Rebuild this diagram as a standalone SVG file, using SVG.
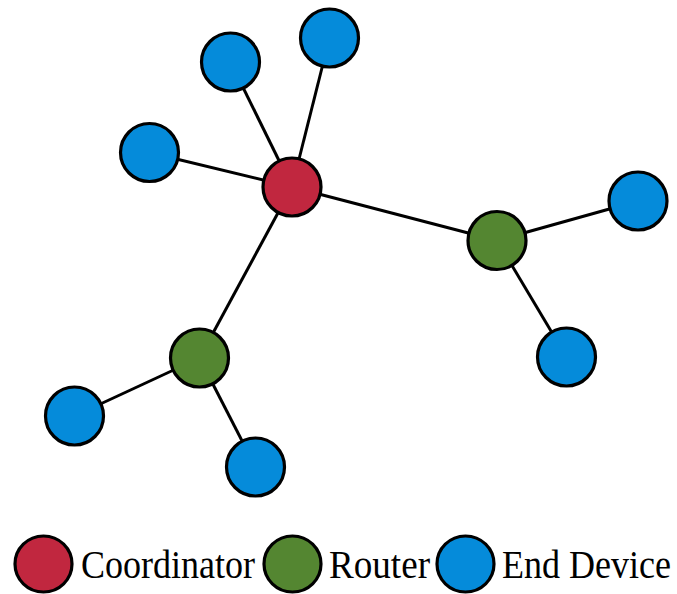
<svg xmlns="http://www.w3.org/2000/svg" width="677" height="594" viewBox="0 0 677 594">
<style>
.edge{stroke:#000;stroke-width:3;fill:none}
.node{stroke:#000;stroke-width:3.2}
.coord{fill:#C1273F}
.router{fill:#548631}
.end{fill:#058BDA}
.lbl{font-family:"Liberation Serif","Times New Roman","DejaVu Serif",serif;font-size:40px;fill:#000}
</style>
<rect width="677" height="594" fill="#fff"/>
<g id="connectors">
<line class="edge" x1="292" y1="187" x2="230.5" y2="62"/>
<line class="edge" x1="292" y1="187" x2="329.5" y2="38"/>
<line class="edge" x1="292" y1="187" x2="149.5" y2="152.5"/>
<line class="edge" x1="292" y1="187" x2="497" y2="240.5"/>
<line class="edge" x1="292" y1="187" x2="199.5" y2="358"/>
<line class="edge" x1="497" y1="240.5" x2="638" y2="201"/>
<line class="edge" x1="497" y1="240.5" x2="566.5" y2="357"/>
<line class="edge" x1="199.5" y1="358" x2="74.5" y2="416"/>
<line class="edge" x1="199.5" y1="358" x2="255.5" y2="467"/>
</g>
<g id="coordinator"><circle class="node coord" cx="292" cy="187" r="29"/></g>
<g id="router1"><circle class="node router" cx="497" cy="240.5" r="29"/></g>
<g id="router2"><circle class="node router" cx="199.5" cy="358" r="29"/></g>
<g id="end1"><circle class="node end" cx="230.5" cy="62" r="29"/></g>
<g id="end2"><circle class="node end" cx="329.5" cy="38" r="29"/></g>
<g id="end3"><circle class="node end" cx="149.5" cy="152.5" r="29"/></g>
<g id="end4"><circle class="node end" cx="638" cy="201" r="29"/></g>
<g id="end5"><circle class="node end" cx="566.5" cy="357" r="29"/></g>
<g id="end6"><circle class="node end" cx="74.5" cy="416" r="29"/></g>
<g id="end7"><circle class="node end" cx="255.5" cy="467" r="29"/></g>
<g id="legend">
<ellipse class="node coord" cx="43.5" cy="564" rx="28.5" ry="28"/>
<text class="lbl" x="81" y="578" textLength="174" lengthAdjust="spacingAndGlyphs">Coordinator</text>
<ellipse class="node router" cx="292.5" cy="564" rx="28.5" ry="28"/>
<text class="lbl" x="329" y="578" textLength="101" lengthAdjust="spacingAndGlyphs">Router</text>
<ellipse class="node end" cx="465.5" cy="564" rx="28.5" ry="28"/>
<text class="lbl" x="502" y="578" textLength="169" lengthAdjust="spacingAndGlyphs">End Device</text>
</g>
</svg>
